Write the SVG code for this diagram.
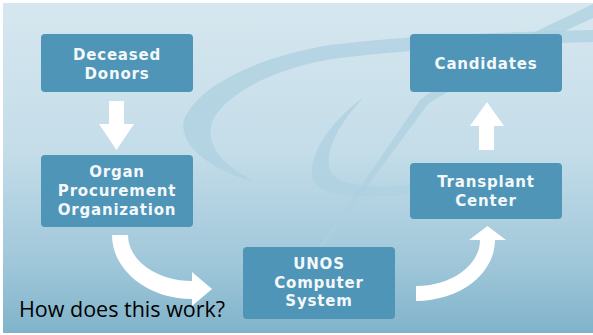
<svg xmlns="http://www.w3.org/2000/svg" width="593" height="335" viewBox="0 0 593 335">
  <defs>
    <linearGradient id="bg" x1="0" y1="0" x2="0" y2="1">
      <stop offset="0" stop-color="#d6e7ef"/>
      <stop offset="0.45" stop-color="#c4dde9"/>
      <stop offset="0.8" stop-color="#9ec6d9"/>
      <stop offset="1" stop-color="#80b3ca"/>
    </linearGradient>
    <style>
      .node rect { fill: #4e95b8; }
      .node text { fill: #f4f8fa; font-family: "DejaVu Sans", "Open Sans", sans-serif; font-weight: bold; font-size: 15px; text-anchor: middle; letter-spacing: 0.8px; }
      .swoosh { fill: #aed0e0; opacity: 0.75; }
      .arrow { fill: #ffffff; }
    </style>
  </defs>

  <!-- backdrop -->
  <rect x="0" y="0" width="593" height="335" fill="#ffffff"/>
  <rect x="3" y="3" width="590" height="330" fill="url(#bg)"/>

  <!-- decorative swooshes -->
  <g id="decor">
    <path class="swoosh" d="M593,30 C520,32 420,34 330,45 C250,58 195,90 184,120 C178,145 210,170 255,182 C222,165 205,145 212,122 C225,92 280,66 340,58 C420,48 520,44 593,42 Z"/>
    <path class="swoosh" d="M364,97 C335,118 310,150 312,175 C315,195 345,200 420,194 L420,184 C370,190 338,186 330,170 C324,150 340,122 364,97 Z"/>
    <path class="swoosh" d="M593,4 C540,30 470,60 420,100 L320,246 L323,246 L428,104 C480,72 545,40 593,18 Z"/>
  </g>

  <!-- connectors -->
  <g id="connectors">
    <path class="arrow" d="M109,101 L124,101 L124,124 L134,124 L116.5,150 L99,124 L109,124 Z"/>
    <path class="arrow" d="M112,235 A80,64 0 0 0 192,299 L192,306 L212,289 L192,272 L192,281 A64,46 0 0 1 128,235 Z"/>
    <path class="arrow" d="M416,301 A79,61 0 0 0 495,240 L506,240 L487.5,226 L469,240 L480,240 A64,46 0 0 1 416,286 Z"/>
    <path class="arrow" d="M479,150 L494,150 L494,126 L504,126 L487,102 L470,126 L479,126 Z"/>
  </g>

  <!-- nodes -->
  <g id="deceased-donors" class="node">
    <rect x="41" y="34" width="152" height="58" rx="4"/>
    <text x="117" y="60">Deceased</text>
    <text x="117" y="79">Donors</text>
  </g>
  <g id="opo" class="node">
    <rect x="41" y="155" width="152" height="72" rx="4"/>
    <text x="117" y="177">Organ</text>
    <text x="117" y="196">Procurement</text>
    <text x="117" y="215">Organization</text>
  </g>
  <g id="unos" class="node">
    <rect x="243" y="247" width="152" height="72" rx="4"/>
    <text x="319" y="269">UNOS</text>
    <text x="319" y="288">Computer</text>
    <text x="319" y="306">System</text>
  </g>
  <g id="transplant-center" class="node">
    <rect x="410" y="163" width="152" height="56" rx="4"/>
    <text x="486" y="187">Transplant</text>
    <text x="486" y="206">Center</text>
  </g>
  <g id="candidates" class="node">
    <rect x="410" y="34" width="152" height="58" rx="4"/>
    <text x="486" y="69">Candidates</text>
  </g>

  <text x="19" y="317" font-family="Open Sans, Liberation Sans, sans-serif" font-size="21.5" fill="#000000">How does this work?</text>
</svg>
